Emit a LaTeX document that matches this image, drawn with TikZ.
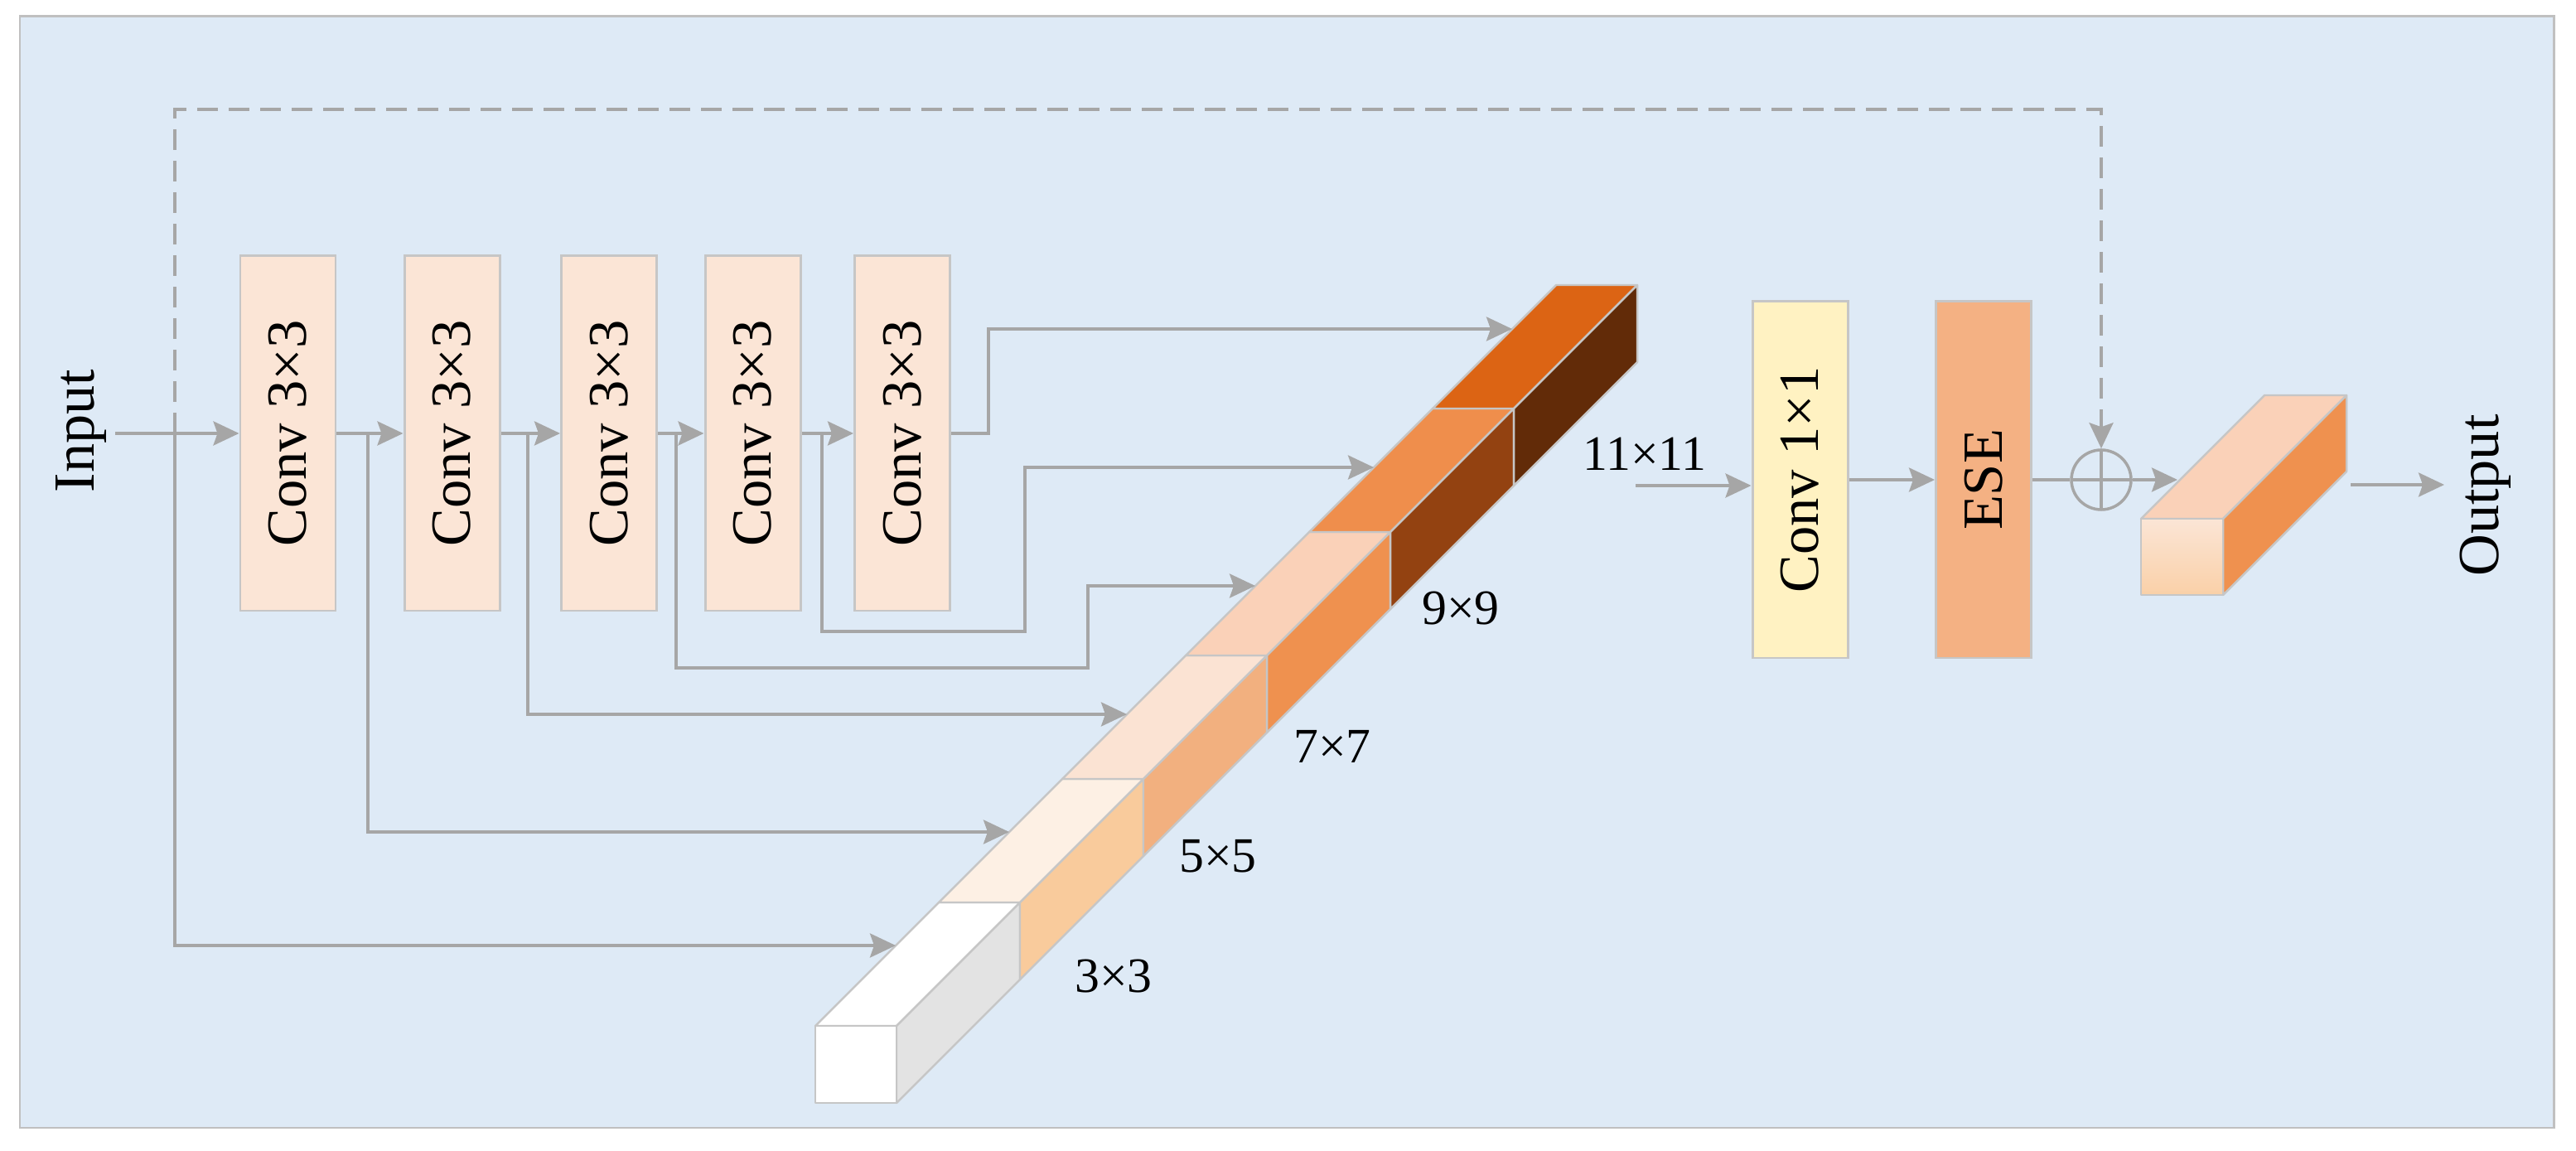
\documentclass[tikz,border=0pt]{standalone}
\usepackage{fontspec}
\setmainfont{Liberation Serif}
\usetikzlibrary{arrows.meta}
\definecolor{bgblue}{HTML}{DEEAF6}
\definecolor{bordergray}{HTML}{C0C0C0}
\definecolor{edgegray}{HTML}{C6C6C6}
\definecolor{arrowgray}{HTML}{A6A6A6}
\definecolor{convfill}{HTML}{FBE5D6}
\definecolor{pwfill}{HTML}{FFF2C2}
\definecolor{esefill}{HTML}{F4B183}
\definecolor{topA}{HTML}{FFFFFF}
\definecolor{topB}{HTML}{FDF0E4}
\definecolor{topC}{HTML}{FBE3D3}
\definecolor{topD}{HTML}{FAD1B8}
\definecolor{topE}{HTML}{EF8E4C}
\definecolor{topF}{HTML}{DC6414}
\definecolor{sideA}{HTML}{E3E3E3}
\definecolor{sideB}{HTML}{F9CB9C}
\definecolor{sideC}{HTML}{F2B07F}
\definecolor{sideD}{HTML}{EF914F}
\definecolor{sideE}{HTML}{934211}
\definecolor{sideF}{HTML}{622B08}
\begin{document}
\begin{tikzpicture}[
  line/.style={draw=arrowgray, line width=1.05pt},
  arr/.style={line, -{Stealth[length=0.31cm,width=0.29cm,inset=0.05cm]}},
  convbox/.style={rectangle, draw=edgegray, fill=convfill, line width=0.85pt, minimum width=1.15cm, minimum height=4.28cm, inner sep=0pt,
    label={[rotate=90, font=\fontsize{19.5}{23}\selectfont]center:#1}},
  face/.style={draw=edgegray, line width=0.7pt, line join=round},
  size/.style={font=\fontsize{17}{20}\selectfont, inner sep=0pt}
]
\useasboundingbox (0,0) rectangle (31.09,13.88);
\filldraw[fill=bgblue, draw=bordergray, line width=0.85pt] (0.24,0.27) rectangle (30.82,13.68);

\node[rotate=90, font=\fontsize{20}{24}\selectfont] (input) at (0.98,8.68) {Input};
\node[convbox=Conv 3×3] (conv1) at (3.475,8.65) {};
\node[convbox=Conv 3×3] (conv2) at (5.455,8.65) {};
\node[convbox=Conv 3×3] (conv3) at (7.35,8.65) {};
\node[convbox=Conv 3×3] (conv4) at (9.085,8.65) {};
\node[convbox=Conv 3×3] (conv5) at (10.89,8.65) {};
\node[convbox=Conv 1×1, fill=pwfill, minimum height=4.30cm] (pw) at (21.725,8.09) {};
\node[convbox=ESE, fill=esefill, minimum height=4.30cm] (ese) at (23.94,8.09) {};
\node[circle, draw=arrowgray, line width=1pt, minimum size=0.72cm, inner sep=0pt,
  path picture={\draw[arrowgray, line width=1pt] (path picture bounding box.north) -- (path picture bounding box.south)
  (path picture bounding box.west) -- (path picture bounding box.east);}] (add) at (25.36,8.09) {};
\node[rotate=90, font=\fontsize{20}{24}\selectfont] (output) at (30.00,7.90) {Output};

\filldraw[face, fill=topA] (9.84,1.50) -- ++(0.98,0) -- ++(1.49,1.49) -- ++(-0.98,0) -- cycle;
\filldraw[face, fill=sideA] (10.82,1.50) -- ++(0,-0.93) -- ++(1.49,1.49) -- ++(0,0.93) -- cycle;
\filldraw[face, fill=topB] (11.33,2.99) -- ++(0.98,0) -- ++(1.49,1.49) -- ++(-0.98,0) -- cycle;
\filldraw[face, fill=sideB] (12.31,2.99) -- ++(0,-0.93) -- ++(1.49,1.49) -- ++(0,0.93) -- cycle;
\filldraw[face, fill=topC] (12.82,4.48) -- ++(0.98,0) -- ++(1.49,1.49) -- ++(-0.98,0) -- cycle;
\filldraw[face, fill=sideC] (13.80,4.48) -- ++(0,-0.93) -- ++(1.49,1.49) -- ++(0,0.93) -- cycle;
\filldraw[face, fill=topD] (14.31,5.97) -- ++(0.98,0) -- ++(1.49,1.49) -- ++(-0.98,0) -- cycle;
\filldraw[face, fill=sideD] (15.29,5.97) -- ++(0,-0.93) -- ++(1.49,1.49) -- ++(0,0.93) -- cycle;
\filldraw[face, fill=topE] (15.80,7.46) -- ++(0.98,0) -- ++(1.49,1.49) -- ++(-0.98,0) -- cycle;
\filldraw[face, fill=sideE] (16.78,7.46) -- ++(0,-0.93) -- ++(1.49,1.49) -- ++(0,0.93) -- cycle;
\filldraw[face, fill=topF] (17.29,8.95) -- ++(0.98,0) -- ++(1.49,1.49) -- ++(-0.98,0) -- cycle;
\filldraw[face, fill=sideF] (18.27,8.95) -- ++(0,-0.93) -- ++(1.49,1.49) -- ++(0,0.93) -- cycle;
\filldraw[face, fill=white] (9.84,0.57) rectangle (10.82,1.50);

\filldraw[face, fill=topD] (25.84,7.62) -- ++(0.99,0) -- ++(1.49,1.49) -- ++(-0.99,0) -- cycle;
\filldraw[face, fill=sideD] (26.83,7.62) -- ++(0,-0.92) -- ++(1.49,1.49) -- ++(0,0.92) -- cycle;
\draw[face, top color=convfill, bottom color=sideB!80!convfill] (25.84,6.70) rectangle (26.83,7.62);

\node[size] (k3) at (13.44,2.10) {3×3};
\node[size] (k5) at (14.70,3.55) {5×5};
\node[size] (k7) at (16.08,4.87) {7×7};
\node[size] (k9) at (17.63,6.54) {9×9};
\node[size] (k11) at (19.85,8.40) {11×11};

\coordinate (inp) at (1.39,8.65);
\coordinate (s0) at (2.11,8.65);
\coordinate (s1) at (4.44,8.65);
\coordinate (s2) at (6.37,8.65);
\coordinate (s3) at (8.16,8.65);
\coordinate (s4) at (9.92,8.65);
\coordinate (t0) at (10.81,2.47);
\coordinate (t1) at (12.18,3.84);
\coordinate (t2) at (13.60,5.26);
\coordinate (t3) at (15.15,6.81);
\coordinate (t4) at (16.58,8.24);
\coordinate (t5) at (18.25,9.91);
\coordinate (barout) at (19.74,8.02);
\coordinate (outin) at (26.28,8.09);
\coordinate (outend) at (28.37,8.03);
\coordinate (outtip) at (29.50,8.03);

\draw[arr] (inp) -- (conv1.west);
\draw[arr] (conv1.east) -- (conv2.west);
\draw[arr] (conv2.east) -- (conv3.west);
\draw[arr] (conv3.east) -- (conv4.west);
\draw[arr] (conv4.east) -- (conv5.west);
\draw[arr] (s0) |- (t0);
\draw[arr] (s1) |- (t1);
\draw[arr] (s2) |- (t2);
\draw[arr] (s3) |- (13.13,5.82) |- (t3);
\draw[arr] (s4) |- (12.37,6.26) |- (t4);
\draw[arr] (conv5.east) -- ++(0.45,0) |- (t5);
\draw[arr, dash pattern=on 0.25cm off 0.13cm] (s0) -- (2.11,12.56) -| (add.north);
\draw[arr] (barout) -- (barout -| pw.west);
\draw[arr] (pw.east) -- (ese.west);
\draw[line] (ese.east) -- (add.west);
\draw[arr] (add.east) -- (outin);
\draw[arr] (outend) -- (outtip);
\end{tikzpicture}
\end{document}
